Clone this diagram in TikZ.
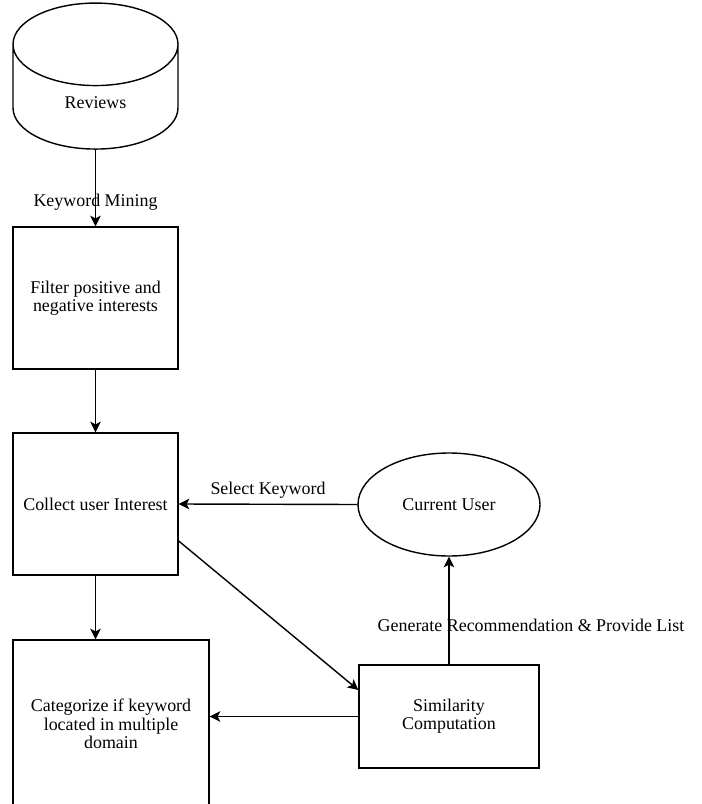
\documentclass[tikz,border=0pt]{standalone}
\usepackage{fontspec}
\setmainfont{Liberation Serif}
\usetikzlibrary{shapes.geometric, arrows.meta, positioning, calc}

\begin{document}
\begin{tikzpicture}[
  box/.style={rectangle,draw=black,line width=0.8pt,align=center,font=\fontsize{10.2}{10.4}\selectfont, inner sep=2pt},
  store/.style={cylinder,draw=black,line width=0.8pt,shape border rotate=90,aspect=1.2, minimum width=3.3cm,minimum height=2.92cm,font=\fontsize{10.2}{10.4}\selectfont, inner sep=2pt},
  actor/.style={ellipse,draw=black,line width=0.8pt,minimum width=3.64cm, minimum height=2.06cm,font=\fontsize{10.2}{10.4}\selectfont, inner sep=1pt},
  fl/.style={-{Stealth[length=6pt,width=6pt,inset=1.5pt]},line width=0.8pt},
  lbl/.style={font=\fontsize{10.2}{10.4}\selectfont, inner sep=2pt, align=center}
]
  \clip (0,0) rectangle (14.04,-16.08);
  \node[store] (rev)  at (1.91,-2.06)  {Reviews};
  \node[box, minimum width=3.3cm, minimum height=2.84cm]  (filt) at (1.91,-5.96)  {Filter positive and\\negative interests};
  \node[box, minimum width=3.3cm, minimum height=2.84cm]  (coll) at (1.91,-10.08) {Collect user Interest};
  \node[actor] (cur)  at (8.98,-10.09) {Current User};
  \node[box, minimum width=3.6cm, minimum height=2.06cm]  (sim)  at (8.98,-14.33) {Similarity\\Computation};
  \node[box, minimum width=3.92cm, minimum height=3.36cm] (cat)  at (2.22,-14.48) {Categorize if keyword\\located in multiple\\domain};

  \draw[fl] (rev.south) -- node[lbl, pos=0.68]{Keyword Mining} (filt.north);
  \draw[fl] (filt.south) -- (coll.north);
  \draw[fl] (cur.west) -- node[lbl, above, inner sep=3pt]{Select Keyword} (coll.east);
  \draw[fl] ([yshift=-0.74cm]coll.east) -- ([yshift=0.53cm]sim.west);
  \draw[fl] (coll.south) -- (coll.south |- cat.north);
  \draw[fl] (sim.west) -- (sim.west -| cat.east);
  \draw[fl] (sim.north) -- node[lbl, pos=0.36, xshift=1.64cm]{Generate Recommendation \& Provide List} (cur.south);
\end{tikzpicture}
\end{document}
